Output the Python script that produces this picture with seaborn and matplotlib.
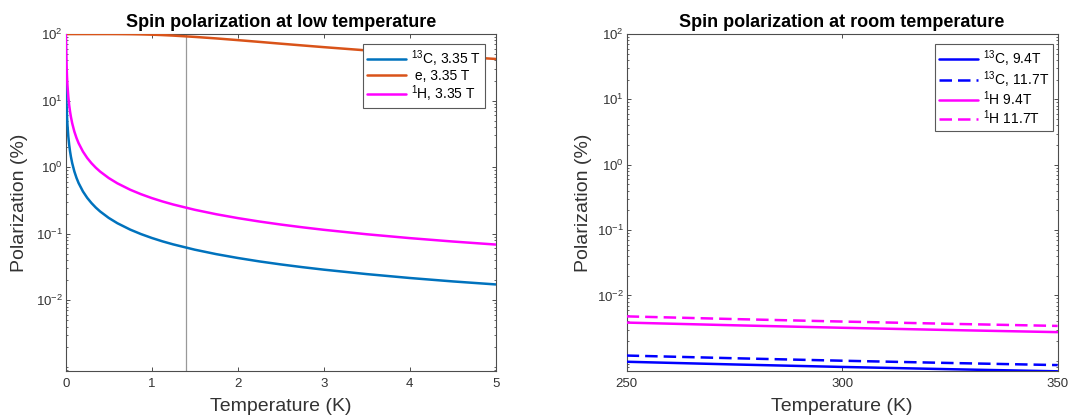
import matplotlib
matplotlib.use("Agg")
import matplotlib.pyplot as plt
import matplotlib.ticker as mticker
import pandas as pd
import seaborn as sns

# ---------------- data ----------------
# Left panel: low temperature, 3.35 T
T_low = [0, 0.001, 0.002, 0.0035, 0.005, 0.0075, 0.01, 0.015, 0.02, 0.03, 0.04,
         0.05, 0.06, 0.075, 0.1, 0.125, 0.15, 0.2, 0.25, 0.3, 0.35, 0.4, 0.5,
         0.6, 0.75, 0.875, 1.0, 1.125, 1.25, 1.5, 1.75, 2.0, 2.25, 2.5, 2.75,
         3.0, 3.5, 4.0, 4.5, 5.0]
P_C13_low = [100, 69.6, 40.5, 24.1, 17.0, 11.42, 8.6, 5.73, 4.3, 2.87, 2.15,
             1.72, 1.433, 1.147, 0.86, 0.688, 0.573, 0.43, 0.344, 0.287, 0.2457,
             0.215, 0.172, 0.1433, 0.1147, 0.0983, 0.086, 0.0764, 0.0688, 0.0573,
             0.0491, 0.043, 0.0382, 0.0344, 0.0313, 0.0287, 0.0246, 0.0215,
             0.0191, 0.0172]
P_e_low = [100, 100, 100, 100, 100, 100, 100, 100, 100, 100, 100,
           100, 100, 100, 100, 100, 100, 100, 100, 100, 100,
           100, 99.98, 99.89, 99.5, 98.84, 97.8, 96.4, 94.7, 90.5,
           85.9, 81.0, 76.2, 71.6, 67.4, 63.5, 56.7, 51.0, 46.2, 42.2]
P_H_low = [100, 99.79, 93.6, 75.2, 59.4, 42.7, 32.9, 22.4, 16.9, 11.35, 8.53,
           6.83, 5.70, 4.56, 3.42, 2.736, 2.28, 1.71, 1.368, 1.14, 0.977,
           0.855, 0.684, 0.57, 0.456, 0.391, 0.342, 0.304, 0.2736, 0.228,
           0.1954, 0.171, 0.152, 0.1368, 0.1244, 0.114, 0.0977, 0.0855,
           0.076, 0.0684]
labels_low = ["$^{13}$C, 3.35 T", " e, 3.35 T", "$^{1}$H, 3.35 T"]
T_marker = 1.4

# Right panel: room temperature
T_room = [250, 275, 300, 325, 350]
P_C13_94 = [9.65e-4, 8.77e-4, 8.04e-4, 7.42e-4, 6.89e-4]
P_C13_117 = [1.201e-3, 1.092e-3, 1.001e-3, 9.24e-4, 8.58e-4]
P_H_94 = [3.837e-3, 3.488e-3, 3.197e-3, 2.951e-3, 2.741e-3]
P_H_117 = [4.776e-3, 4.342e-3, 3.98e-3, 3.674e-3, 3.411e-3]
labels_room = ["$^{13}$C, 9.4T", "$^{13}$C, 11.7T", "$^{1}$H 9.4T", "$^{1}$H 11.7T"]

x_ticks_low = [0, 1, 2, 3, 4, 5]
x_ticks_room = [250, 300, 350]
y_ticks = [1e-2, 1e-1, 1e0, 1e1, 1e2]

# ---------------- style ----------------
sns.set_style("ticks")
plt.rcParams["font.family"] = ["Liberation Sans", "DejaVu Sans"]
plt.rcParams["mathtext.fontset"] = "custom"
plt.rcParams["mathtext.rm"] = "Liberation Sans"
plt.rcParams["mathtext.it"] = "Liberation Sans:italic"
plt.rcParams["mathtext.bf"] = "Liberation Sans:bold"
plt.rcParams["mathtext.default"] = "regular"

AX_COL = "0.3"
TXT_COL = "0.2"
LW = 1.8
DASH = (5, 2.4)

fig = plt.figure(figsize=(10.69, 4.19), dpi=100)
ax1 = fig.add_axes([0.0615, 0.1138, 0.4022, 0.805])
ax2 = fig.add_axes([0.5862, 0.1138, 0.4032, 0.805])

# ---------------- left panel ----------------
df_low = pd.DataFrame({"T": T_low, "C13": P_C13_low, "e": P_e_low, "H": P_H_low})
ax1.axvline(T_marker, color="0.6", lw=0.9, zorder=1)
for col, c, lab in zip(["C13", "e", "H"], ["#0072BD", "#D95319", "#FF00FF"], labels_low):
    sns.lineplot(data=df_low, x="T", y=col, ax=ax1, color=c, lw=LW, label=lab,
                 estimator=None, zorder=3)
ax1.set_yscale("log")
ax1.set_xlim(0, 5)
ax1.set_ylim(8.5e-4, 100)
ax1.set_xticks(x_ticks_low)
ax1.set_title("Spin polarization at low temperature", fontsize=13, fontweight="bold",
              color="black", pad=5)

# ---------------- right panel ----------------
df_room = pd.DataFrame({"T": T_room, "C94": P_C13_94, "C117": P_C13_117,
                        "H94": P_H_94, "H117": P_H_117})
styles = [("C94", "#0000FF", False), ("C117", "#0000FF", True),
          ("H94", "#FF00FF", False), ("H117", "#FF00FF", True)]
for (col, c, dashed), lab in zip(styles, labels_room):
    sns.lineplot(data=df_room, x="T", y=col, ax=ax2, color=c, lw=LW, label=lab,
                 estimator=None, zorder=3)
    if dashed:
        ax2.get_lines()[-1].set_dashes(DASH)
ax2.set_yscale("log")
ax2.set_xlim(250, 350)
ax2.set_ylim(6.89e-4, 100)
ax2.set_xticks(x_ticks_room)
ax2.set_title("Spin polarization at room temperature", fontsize=13, fontweight="bold",
              color="black", pad=5)

# ---------------- common formatting ----------------
for ax, ylab_x, anchor in [(ax1, -0.088, (0.975, 0.970)), (ax2, -0.0805, (0.990, 0.970))]:
    ax.yaxis.set_major_locator(mticker.FixedLocator(y_ticks))
    ax.yaxis.set_major_formatter(mticker.LogFormatterSciNotation())
    ax.yaxis.set_minor_locator(mticker.LogLocator(base=10, subs=range(1, 10), numticks=100))
    ax.yaxis.set_minor_formatter(mticker.NullFormatter())
    ax.xaxis.set_minor_locator(mticker.NullLocator())
    ax.tick_params(which="both", direction="in", top=True, right=True,
                   color=AX_COL, labelcolor=TXT_COL, labelsize=9.5)
    ax.tick_params(which="major", length=3.2, width=0.7)
    ax.tick_params(which="minor", length=1.6, width=0.6)
    ax.tick_params(axis="x", pad=5)
    ax.tick_params(axis="y", pad=2)
    for s in ax.spines.values():
        s.set_visible(True)
        s.set_color(AX_COL)
        s.set_linewidth(0.8)
    ax.set_xlabel("Temperature (K)", fontsize=14, color=TXT_COL)
    ax.set_ylabel("Polarization (%)", fontsize=14, color=TXT_COL)
    ax.xaxis.set_label_coords(0.5, -0.079)
    ax.yaxis.set_label_coords(ylab_x, 0.5)
    leg = ax.legend(loc="upper right", bbox_to_anchor=anchor, borderaxespad=0,
                    fontsize=10, handlelength=2.8, handletextpad=0.35,
                    borderpad=0.3, labelspacing=0.0, fancybox=False,
                    framealpha=1, edgecolor="0.35")
    leg.get_frame().set_linewidth(0.8)
    for t in leg.get_texts():
        t.set_color("black")

fig.savefig("out.png", dpi=100)
